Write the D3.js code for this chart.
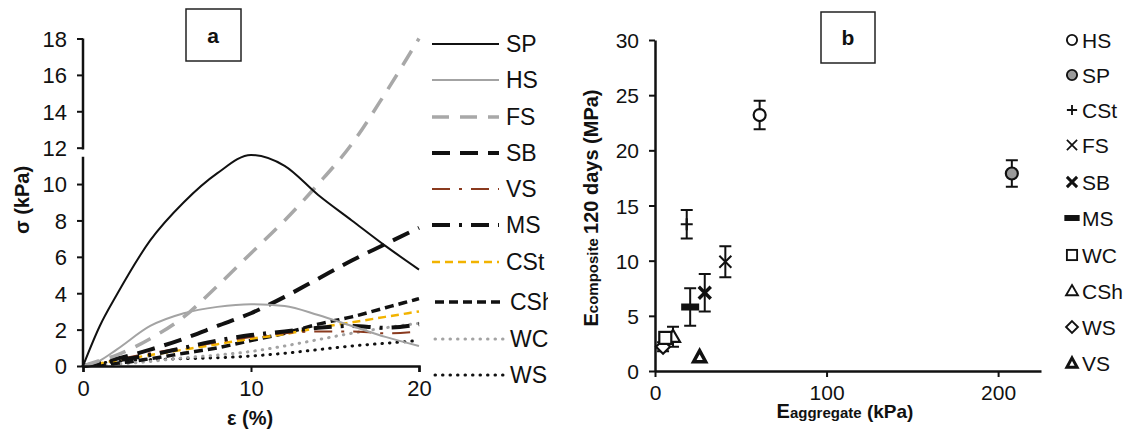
<!DOCTYPE html>
<html>
<head>
<meta charset="utf-8">
<title>Stress-strain and modulus</title>
<script src="https://d3js.org/d3.v7.min.js"></script>
<style>
  body { margin: 0; background: #fff; }
  text { font-family: "Liberation Sans", Arial, sans-serif; fill: #111; }
</style>
</head>
<body>
<svg width="1134" height="431"></svg>
<script>
// ---- panel a: stress vs strain ----
const strain = [0, 1, 2, 4, 6, 8, 10, 12, 14, 16, 18, 20];
const seriesNames = ["SP", "HS", "FS", "SB", "VS", "MS", "CSt", "CSh", "WC", "WS"];
const SP  = [0, 2.2, 3.9, 6.9, 9.0, 10.6, 11.6, 11.0, 9.4, 8.0, 6.6, 5.3];
const HS  = [0, 0.3, 0.9, 2.2, 2.9, 3.25, 3.4, 3.3, 2.8, 2.2, 1.6, 1.1];
const FS  = [0, 0.3, 0.6, 1.5, 2.7, 4.4, 6.2, 8.0, 10.0, 12.2, 15.0, 18.0];
const SB  = [0, 0.2, 0.4, 0.9, 1.5, 2.2, 2.9, 3.8, 4.8, 5.8, 6.7, 7.6];
const VS  = [0, 0.18, 0.35, 0.7, 1.0, 1.3, 1.6, 1.8, 1.9, 1.9, 1.8, 1.9];
const MS  = [0, 0.15, 0.3, 0.6, 1.0, 1.4, 1.7, 1.9, 2.1, 2.2, 2.1, 2.3];
const CSt = [0, 0.15, 0.3, 0.6, 0.9, 1.2, 1.5, 1.75, 2.1, 2.4, 2.7, 3.0];
const CSh = [0, 0.08, 0.15, 0.4, 0.7, 1.0, 1.4, 1.8, 2.3, 2.7, 3.2, 3.7];
const WC  = [0, 0.05, 0.1, 0.25, 0.45, 0.6, 0.8, 1.1, 1.45, 1.8, 2.1, 2.35];
const WS  = [0, 0.15, 0.25, 0.35, 0.4, 0.45, 0.55, 0.7, 0.9, 1.1, 1.25, 1.4];
const stressTicks = [0, 2, 4, 6, 8, 10, 12, 14, 16, 18];
const strainTicks = [0, 10, 20];

// ---- panel b: modulus ----
const materials = ["HS", "SP", "CSt", "FS", "SB", "MS", "WC", "CSh", "WS", "VS"];
const eAggregate = [61, 208, 18.5, 41, 29, 20.5, 6, 10.5, 4.7, 26];
const eComposite = [23.2, 17.9, 13.3, 9.9, 7.1, 5.8, 3.0, 3.1, 2.2, 1.3];
const eError     = [1.3, 1.2, 1.3, 1.4, 1.7, 1.7, 0.5, 0.9, 0.4, 0];
const modYTicks = [0, 5, 10, 15, 20, 25, 30];
const modXTicks = [0, 100, 200];

const svg = d3.select("svg");

// ================= panel a =================
const xa = d3.scaleLinear().domain([0, 20]).range([83, 419]);
const ya = d3.scaleLinear().domain([0, 18]).range([366, 38.5]);

const styles = {
  SP:  {stroke: "#111", w: 2, dash: null},
  HS:  {stroke: "#a3a3a3", w: 2, dash: null},
  FS:  {stroke: "#a8a8a8", w: 3.5, dash: "17,11"},
  SB:  {stroke: "#111", w: 4, dash: "18,10"},
  VS:  {stroke: "#8a3a1e", w: 2, dash: "18,9,3,9"},
  MS:  {stroke: "#111", w: 4, dash: "18,9,3,9"},
  CSt: {stroke: "#f2b300", w: 2.5, dash: "8,5"},
  CSh: {stroke: "#111", w: 3.5, dash: "9,5"},
  WC:  {stroke: "#a3a3a3", w: 3, dash: "0.5,7", cap: "round"},
  WS:  {stroke: "#111", w: 3, dash: "0.5,7", cap: "round"}
};
const seriesVals = {SP, HS, FS, SB, VS, MS, CSt, CSh, WC, WS};

const gA = svg.append("g");
const line = d3.line().curve(d3.curveMonotoneX).x((d, i) => xa(strain[i])).y(d => ya(d));

// draw lower series first so SP / FS sit on top
["WS", "WC", "CSh", "CSt", "VS", "MS", "SB", "HS", "FS", "SP"].forEach(name => {
  const s = styles[name];
  gA.append("path")
    .datum(seriesVals[name])
    .attr("fill", "none")
    .attr("stroke", s.stroke)
    .attr("stroke-width", s.w)
    .attr("stroke-dasharray", s.dash)
    .attr("stroke-linecap", s.cap || "butt")
    .attr("d", line);
});

// y axis with break
const yAxisA = gA.append("g").attr("transform", "translate(83,0)")
  .call(d3.axisLeft(ya).tickValues(stressTicks).tickSize(6).tickPadding(10));
yAxisA.select(".domain").remove();
yAxisA.selectAll("line").attr("stroke", "#111").attr("stroke-width", 2);
yAxisA.selectAll("text").style("font-size", "22px").attr("dy", "0.36em");
gA.append("line").attr("x1", 83).attr("x2", 83).attr("y1", ya(18)).attr("y2", ya(11.9))
  .attr("stroke", "#111").attr("stroke-width", 2.5);
gA.append("line").attr("x1", 83).attr("x2", 83).attr("y1", ya(11.5)).attr("y2", ya(0))
  .attr("stroke", "#111").attr("stroke-width", 2.5);

// x axis
const xAxisA = gA.append("g").attr("transform", "translate(0,366)")
  .call(d3.axisBottom(xa).tickValues(strainTicks).tickSize(6).tickPadding(8));
xAxisA.select(".domain").attr("stroke", "#111").attr("stroke-width", 2.5);
xAxisA.selectAll("line").attr("stroke", "#111").attr("stroke-width", 2);
xAxisA.selectAll("text").style("font-size", "22px");

// titles
gA.append("text").attr("x", 250).attr("y", 425).attr("text-anchor", "middle")
  .style("font-size", "20px").style("font-weight", "bold").text("ε (%)");
gA.append("text").attr("transform", "translate(29,200) rotate(-90)").attr("text-anchor", "middle")
  .style("font-size", "20px").style("font-weight", "bold").text("σ (kPa)");

// label box
gA.append("rect").attr("x", 186).attr("y", 9).attr("width", 55).attr("height", 52)
  .attr("fill", "#fff").attr("stroke", "#222").attr("stroke-width", 1.5);
gA.append("text").attr("x", 213).attr("y", 43).attr("text-anchor", "middle")
  .style("font-size", "21px").style("font-weight", "bold").text("a");

// legend a (clipped on the right like the reference)
svg.append("clipPath").attr("id", "clipA").append("rect")
  .attr("x", 400).attr("y", 0).attr("width", 148).attr("height", 431);
const legA = svg.append("g").attr("clip-path", "url(#clipA)");
const legAY = [44, 80, 117, 153, 189, 225, 262, 302, 339, 375];
seriesNames.forEach((name, i) => {
  const s = styles[name];
  const wide = i >= 7;
  legA.append("line")
    .attr("x1", wide ? 435 : 432).attr("x2", wide ? 503 : 499)
    .attr("y1", legAY[i]).attr("y2", legAY[i])
    .attr("stroke", s.stroke).attr("stroke-width", s.w)
    .attr("stroke-dasharray", s.dash).attr("stroke-linecap", s.cap || "butt");
  legA.append("text").attr("x", wide ? 510 : 506).attr("y", legAY[i]).attr("dy", "0.36em")
    .style("font-size", "23px").text(name);
});

// ================= panel b =================
const xb = d3.scaleLinear().domain([0, 225]).range([655, 1041]);
const yb = d3.scaleLinear().domain([0, 30]).range([371, 40]);
const gB = svg.append("g");

const yAxisB = gB.append("g").attr("transform", "translate(655,0)")
  .call(d3.axisLeft(yb).tickValues(modYTicks).tickSize(6).tickSizeOuter(0).tickPadding(10));
yAxisB.select(".domain").attr("stroke", "#111").attr("stroke-width", 2.5);
yAxisB.selectAll("line").attr("stroke", "#111").attr("stroke-width", 2);
yAxisB.selectAll("text").style("font-size", "21px").attr("dy", "0.36em");

const xAxisB = gB.append("g").attr("transform", "translate(0,371)")
  .call(d3.axisBottom(xb).tickValues(modXTicks).tickSize(6).tickSizeOuter(0).tickPadding(8));
xAxisB.select(".domain").attr("stroke", "#111").attr("stroke-width", 2.5);
xAxisB.selectAll("line").attr("stroke", "#111").attr("stroke-width", 2);
xAxisB.selectAll("text").style("font-size", "21px");

// titles
const xt = gB.append("text").attr("x", 845).attr("y", 418).attr("text-anchor", "middle")
  .style("font-weight", "bold");
xt.append("tspan").style("font-size", "20px").text("E");
xt.append("tspan").style("font-size", "15px").text("aggregate");
xt.append("tspan").style("font-size", "19px").text(" (kPa)");

const yt = gB.append("text").attr("transform", "translate(598,208) rotate(-90)")
  .attr("text-anchor", "middle").style("font-weight", "bold");
yt.append("tspan").style("font-size", "20px").text("E");
yt.append("tspan").style("font-size", "15px").text("composite ");
yt.append("tspan").style("font-size", "20px").text("120 days (MPa)");

// label box
gB.append("rect").attr("x", 821).attr("y", 12).attr("width", 54).attr("height", 51)
  .attr("fill", "#fff").attr("stroke", "#222").attr("stroke-width", 1.5);
gB.append("text").attr("x", 848).attr("y", 45).attr("text-anchor", "middle")
  .style("font-size", "21px").style("font-weight", "bold").text("b");

// marker drawing
function marker(g, name, cx, cy, k) {
  const m = g.append("g").attr("transform", `translate(${cx},${cy}) scale(${k})`);
  const st = (sel, w) => sel.attr("stroke", "#111").attr("stroke-width", w).attr("fill", "none");
  switch (name) {
    case "HS": st(m.append("circle").attr("r", 6), 2.2).attr("fill", "#fff"); break;
    case "SP": st(m.append("circle").attr("r", 6), 2.2).attr("fill", "#9a9a9a"); break;
    case "CSt":
      st(m.append("path").attr("d", "M-6,0H6M0,-6V6"), 2.2); break;
    case "FS":
      st(m.append("path").attr("d", "M-6,-6L6,6M-6,6L6,-6"), 2); break;
    case "SB":
      st(m.append("path").attr("d", "M-6,-6L6,6M-6,6L6,-6"), 3.5); break;
    case "MS":
      m.append("rect").attr("x", -9).attr("y", -3.5).attr("width", 18).attr("height", 7).attr("fill", "#111"); break;
    case "WC":
      st(m.append("rect").attr("x", -6).attr("y", -6).attr("width", 12).attr("height", 12), 2.2).attr("fill", "#fff"); break;
    case "CSh":
      st(m.append("path").attr("d", "M0,-7L7,5H-7Z"), 2.2).attr("fill", "#fff"); break;
    case "WS":
      st(m.append("path").attr("d", "M0,-7L7,0L0,7L-7,0Z"), 2.2).attr("fill", "#fff"); break;
    case "VS":
      st(m.append("path").attr("d", "M0,-6L6,5H-6Z"), 3.5).attr("fill", "#fff"); break;
  }
}

// error bars
materials.forEach((name, i) => {
  const cx = xb(eAggregate[i]), cy = yb(eComposite[i]);
  if (eError[i] > 0) {
    const t = yb(eComposite[i] + eError[i]), b = yb(eComposite[i] - eError[i]);
    gB.append("path")
      .attr("d", `M${cx},${t}V${b}M${cx - 6},${t}H${cx + 6}M${cx - 6},${b}H${cx + 6}`)
      .attr("stroke", "#111").attr("stroke-width", 2).attr("fill", "none");
  }
});
// points
materials.slice().reverse().forEach(name => {
  const i = materials.indexOf(name);
  marker(gB, name, xb(eAggregate[i]), yb(eComposite[i]), 1);
});

// legend b
const legBY = [40, 75, 110, 145, 182, 218, 255, 291, 327, 363];
materials.forEach((name, i) => {
  marker(svg, name, 1072, legBY[i], 0.85);
  svg.append("text").attr("x", 1082).attr("y", legBY[i]).attr("dy", "0.36em")
    .style("font-size", "21px").text(name);
});
</script>
</body>
</html>
